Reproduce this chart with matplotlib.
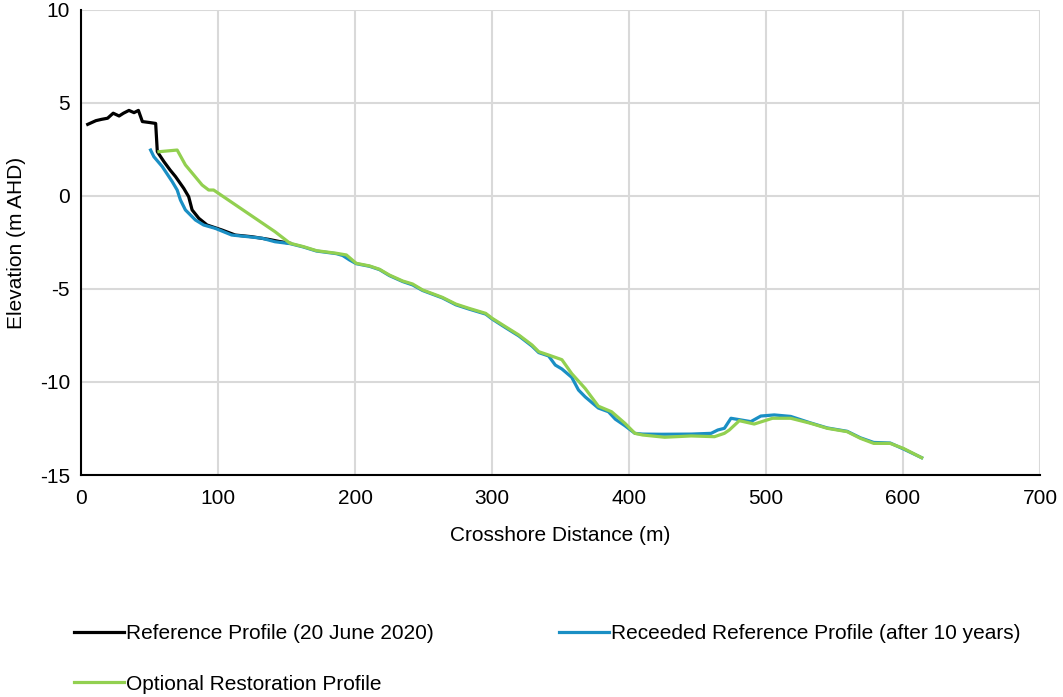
import matplotlib.pyplot as plt

plt.rcParams['font.family'] = ['Liberation Sans', 'DejaVu Sans']
plt.rcParams['axes.unicode_minus'] = False

# Reference profile (20 June 2020)
ref_x = [4.9, 10.9, 15.0, 19.4, 23.5, 27.8, 31.0, 35.0, 38.7, 41.9, 44.8, 50.0, 54.5,
         55.7, 60.5, 65.0, 69.0, 75.0, 78.6, 81.1, 86.0, 92.0, 102.9, 112.6, 124.7,
         136.8, 145.0, 152.5]
ref_y = [3.85, 4.05, 4.12, 4.18, 4.45, 4.30, 4.45, 4.60, 4.48, 4.60, 4.00, 3.95, 3.90,
         2.38, 1.85, 1.40, 1.04, 0.41, -0.04, -0.75, -1.20, -1.56, -1.83, -2.10, -2.19,
         -2.33, -2.45, -2.54]

# Receeded reference profile (after 10 years)
rec_x = [50.8, 53.2, 59.3, 66.6, 70.2, 72.6, 76.2, 83.5, 89.5, 98.0, 110.0, 122.0, 132.0,
         141.6, 152.5, 162.2, 171.9, 186.4, 191.0, 196.0, 200.9, 210.6, 217.9, 225.1,
         234.8, 242.0, 249.3, 263.8, 273.6, 283.2, 295.4, 300.2, 309.9, 319.5, 329.2,
         334.1, 341.3, 346.2, 351.0, 358.2, 363.1, 368.0, 377.6, 385.0, 390.0, 397.0,
         404.3, 410.0, 423.6, 445.4, 459.9, 464.8, 469.6, 474.4, 481.7, 488.9, 496.2,
         506.0, 518.0, 532.5, 544.7, 559.2, 568.9, 578.6, 590.6, 600.3, 613.6]
rec_y = [2.47, 2.11, 1.58, 0.77, 0.32, -0.22, -0.75, -1.29, -1.56, -1.74, -2.10, -2.19,
         -2.27, -2.46, -2.56, -2.74, -2.96, -3.10, -3.20, -3.44, -3.64, -3.78, -3.96,
         -4.28, -4.60, -4.78, -5.08, -5.48, -5.85, -6.08, -6.35, -6.62, -7.08, -7.52,
         -8.07, -8.42, -8.60, -9.09, -9.30, -9.75, -10.43, -10.80, -11.40, -11.60,
         -12.00, -12.35, -12.76, -12.80, -12.81, -12.80, -12.76, -12.58, -12.49, -11.95,
         -12.04, -12.13, -11.83, -11.77, -11.85, -12.20, -12.47, -12.65, -13.00, -13.25,
         -13.28, -13.60, -14.07]

# Optional restoration profile
opt_x = [56.9, 70.2, 76.2, 88.4, 93.2, 96.8, 141.6, 152.5, 162.2, 171.9, 186.4, 193.7,
         200.9, 210.6, 217.9, 225.1, 234.8, 242.0, 249.3, 263.8, 273.6, 283.2, 295.4,
         300.2, 309.9, 319.5, 329.2, 334.1, 341.3, 351.0, 358.2, 368.0, 377.6, 387.3,
         397.0, 404.3, 410.0, 426.0, 445.4, 462.4, 469.6, 473.2, 480.5, 491.4, 504.7,
         518.0, 532.5, 544.7, 559.2, 568.9, 578.6, 590.6, 600.3, 613.6]
opt_y = [2.38, 2.47, 1.67, 0.59, 0.32, 0.32, -1.92, -2.54, -2.72, -2.94, -3.08, -3.17,
         -3.62, -3.76, -3.94, -4.25, -4.57, -4.73, -5.05, -5.45, -5.81, -6.04, -6.31,
         -6.58, -7.03, -7.47, -8.01, -8.37, -8.55, -8.80, -9.55, -10.35, -11.30, -11.60,
         -12.22, -12.76, -12.85, -12.97, -12.90, -12.94, -12.76, -12.58, -12.08, -12.26,
         -11.95, -11.95, -12.22, -12.49, -12.67, -13.03, -13.30, -13.30, -13.57, -14.07]

fig = plt.figure(figsize=(10.63, 6.97), dpi=100)
ax = fig.add_axes([0.0762, 0.3185, 0.9022, 0.6672])

l_ref, = ax.plot(ref_x, ref_y, color='black', lw=2.3, label='Reference Profile (20 June 2020)')
l_rec, = ax.plot(rec_x, rec_y, color='#1a8fc4', lw=2.3,
                 label='Receeded Reference Profile (after 10 years)')
l_opt, = ax.plot(opt_x, opt_y, color='#92d050', lw=2.3, label='Optional Restoration Profile')

ax.set_xlim(0, 700)
ax.set_ylim(-15, 10)
ax.set_xticks(range(0, 701, 100))
ax.set_yticks(range(-15, 11, 5))
ax.grid(True, color='#d9d9d9', lw=1.5)
ax.set_axisbelow(True)
for s in ['top', 'right']:
    ax.spines[s].set_visible(False)
ax.spines['left'].set_linewidth(1.5)
ax.spines['bottom'].set_linewidth(1.5)
ax.tick_params(axis='x', length=0, labelsize=15, pad=10)
ax.tick_params(axis='y', length=0, labelsize=15, pad=8)
ax.set_xlabel('Crosshore Distance (m)', fontsize=15, labelpad=13)
ax.set_ylabel('Elevation (m AHD)', fontsize=15, labelpad=10)

# column-major fill: first column gets ref + opt, second gets rec
fig.legend([l_ref, l_opt, l_rec],
           [l_ref.get_label(), l_opt.get_label(), l_rec.get_label()],
           loc='upper left', bbox_to_anchor=(0.062, 0.116), ncol=2, frameon=False,
           fontsize=15, handlelength=2.4, handletextpad=0.1, columnspacing=6.0,
           labelspacing=1.5, borderaxespad=0)

fig.savefig('out.png', dpi=100)
